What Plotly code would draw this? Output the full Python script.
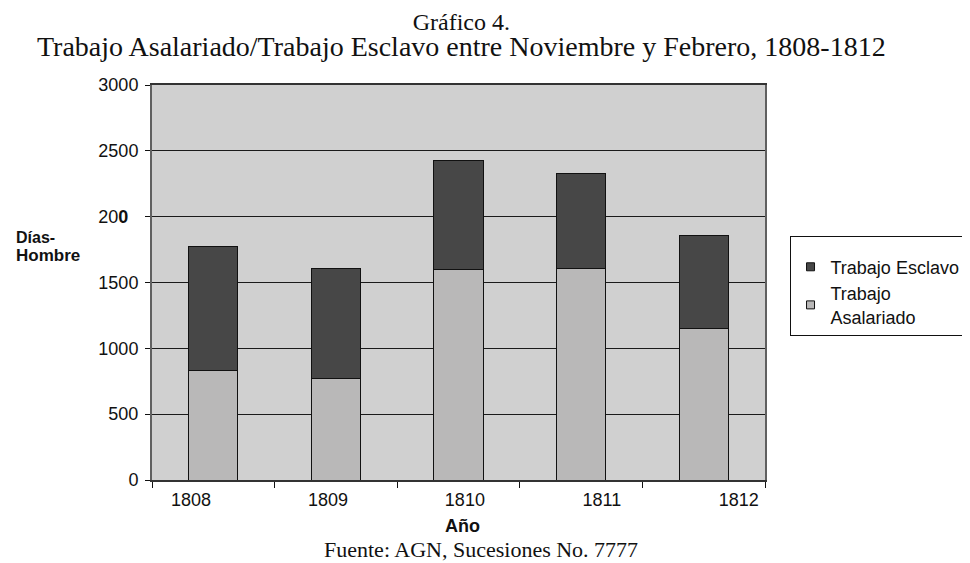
import plotly.graph_objects as go

# ---- data ----
years = ["1808", "1809", "1810", "1811", "1812"]
asalariado = [834, 771, 1601, 1608, 1149]          # Trabajo Asalariado (bottom)
esclavo = [937, 839, 826, 723, 711]                # Trabajo Esclavo (top)
ytick_vals = [0, 500, 1000, 1500, 2000, 2500, 3000]
ytick_text = ["0", "500", "1000", "1500", "20<b>0</b>\u2007", "2500", "3000"]
title_lines = ["Gráfico 4.",
               "Trabajo Asalariado/Trabajo Esclavo entre Noviembre y Febrero, 1808-1812"]

C_DARK = "#474747"
C_LIGHT = "#b9b8b8"
SANS = "Liberation Sans, Arial, sans-serif"
SERIF = "Liberation Serif, Times New Roman, serif"
FS = 18

fig = go.Figure()
fig.add_trace(go.Bar(x=years, y=asalariado, name="Trabajo<br>Asalariado",
                     marker=dict(color=C_LIGHT, line=dict(color="#111", width=1)),
                     width=0.4, showlegend=False))
fig.add_trace(go.Bar(x=years, y=esclavo, name="Trabajo Esclavo",
                     marker=dict(color=C_DARK, line=dict(color="#111", width=1)),
                     width=0.4, showlegend=False))
# invisible trace carrying the (offset) year labels on the second x axis
fig.add_trace(go.Scatter(x=years, y=esclavo, xaxis="x2", mode="markers",
                         marker=dict(opacity=0), showlegend=False, hoverinfo="skip"))
# legend entries (small squares)
fig.add_trace(go.Scatter(x=[None], y=[None], mode="markers", name="Trabajo Esclavo",
                         marker=dict(symbol="square", size=8, color=C_DARK,
                                     line=dict(color="#111", width=1))))
fig.add_trace(go.Scatter(x=[None], y=[None], mode="markers", name="Trabajo<br>Asalariado",
                         marker=dict(symbol="square", size=8, color=C_LIGHT,
                                     line=dict(color="#111", width=1))))

title_html = ('<span style="font-size:24px">' + title_lines[0] + '</span><br>'
              '<span style="font-size:28px">' + title_lines[1] + '</span>')

fig.update_layout(
    width=970, height=563,
    margin=dict(l=144, r=197, t=77, b=91),
    paper_bgcolor="white", plot_bgcolor="#d0d0d0",
    barmode="stack",
    font=dict(family=SANS, size=FS, color="#111"),
    xaxis=dict(type="category", range=[-0.5, 4.5], tickson="boundaries",
               ticks="outside", ticklen=6, tickcolor="#111", showticklabels=False,
               showgrid=False, showline=True, linecolor="#333", linewidth=1.5,
               mirror=True, zeroline=False),
    xaxis2=dict(overlaying="x", anchor="y", side="bottom", type="category",
                range=[-0.285, 4.192],
                ticks="outside", ticklen=3, tickcolor="rgba(0,0,0,0)",
                showgrid=False, showline=False, zeroline=False,
                tickfont=dict(family=SANS, size=FS, color="#111")),
    yaxis=dict(range=[0, 3000], tickvals=ytick_vals, ticktext=ytick_text,
               ticks="outside", ticklen=5, tickcolor="#111",
               showgrid=True, gridcolor="#1a1a1a", gridwidth=1,
               showline=True, linecolor="#606060", linewidth=2, mirror=True,
               zeroline=False, ticklabelstandoff=3,
               tickfont=dict(family=SANS, size=FS, color="#111")),
    legend=dict(x=1.04, xanchor="left", y=0.618, yanchor="top",
                traceorder="normal",
                bgcolor="white", bordercolor="#111", borderwidth=1,
                font=dict(family=SANS, size=FS, color="#111"),
                title=dict(text=" ", font=dict(size=9)),
                entrywidth=200, tracegroupgap=2),
    annotations=[
        dict(text=title_html, xref="paper", yref="paper", x=0.505, y=1.125,
             xanchor="center", yanchor="middle", align="center", showarrow=False,
             font=dict(family=SERIF, size=20, color="#111")),
        dict(text="<b>Días-</b>", xref="paper", yref="paper", x=-0.2258, y=0.613,
             xanchor="left", yanchor="middle", showarrow=False,
             font=dict(family=SANS, size=16, color="#111")),
        dict(text="<b>Hombre</b>", xref="paper", yref="paper", x=-0.2258, y=0.568,
             xanchor="left", yanchor="middle", showarrow=False,
             font=dict(family=SANS, size=17, color="#111")),
        dict(text="<b>Año</b>", xref="paper", yref="paper", x=0.507, y=-0.117,
             xanchor="center", yanchor="middle", showarrow=False,
             font=dict(family=SANS, size=FS, color="#111")),
        dict(text="Fuente: AGN, Sucesiones No. 7777", xref="paper", yref="paper",
             x=0.537, y=-0.176, xanchor="center", yanchor="middle", showarrow=False,
             font=dict(family=SERIF, size=22, color="#111")),
    ],
)

fig.write_html("out.html")
